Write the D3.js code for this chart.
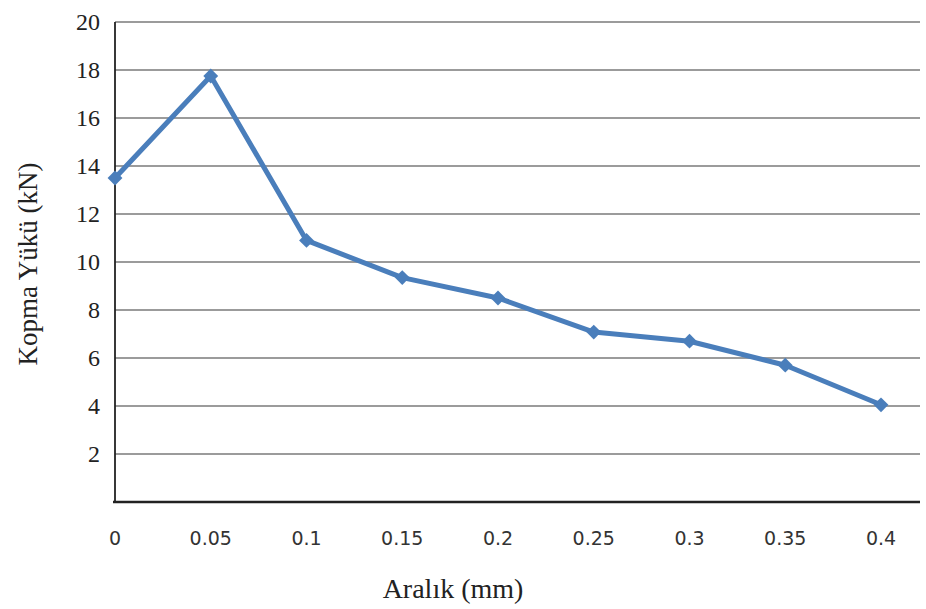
<!DOCTYPE html>
<html>
<head>
<meta charset="utf-8">
<script src="https://cdn.jsdelivr.net/npm/d3@7"></script>
<style>
  html, body { margin: 0; padding: 0; background: #fff; }
  svg { display: block; }
  .serif { font-family: "Liberation Serif", "Times New Roman", serif; }
  .sans { font-family: "DejaVu Sans", Verdana, sans-serif; }
</style>
</head>
<body>
<svg id="chart" width="926" height="609"></svg>
<script>
// Spacing (mm) vs. breaking load (kN)
const gaps = [0, 0.05, 0.1, 0.15, 0.2, 0.25, 0.3, 0.35, 0.4];
const gapLabels = ["0", "0.05", "0.1", "0.15", "0.2", "0.25", "0.3", "0.35", "0.4"];
const loads = [13.5, 17.75, 10.9, 9.35, 8.5, 7.08, 6.7, 5.7, 4.05];
const yTicks = [2, 4, 6, 8, 10, 12, 14, 16, 18, 20];

(function () {
  const svg = d3.select("#chart");
  const plotLeft = 115, plotRight = 920, plotTop = 22, plotBottom = 502;

  const x = d3.scalePoint().domain(gaps).range([plotLeft, 881]);
  const y = d3.scaleLinear().domain([0, 20]).range([plotBottom, plotTop]);

  // horizontal gridlines
  svg.append("g").selectAll("line").data(yTicks).join("line")
    .attr("x1", plotLeft).attr("x2", plotRight)
    .attr("y1", d => y(d)).attr("y2", d => y(d))
    .attr("stroke", "#7a7a7a").attr("stroke-width", 1.3);

  // y axis line
  svg.append("line").attr("x1", plotLeft).attr("x2", plotLeft)
    .attr("y1", plotTop).attr("y2", plotBottom)
    .attr("stroke", "#222").attr("stroke-width", 1.8);

  // x axis line
  svg.append("line").attr("x1", plotLeft - 2).attr("x2", plotRight)
    .attr("y1", plotBottom).attr("y2", plotBottom)
    .attr("stroke", "#222").attr("stroke-width", 2.4);

  // y tick labels
  svg.append("g").selectAll("text").data(yTicks).join("text")
    .attr("class", "serif")
    .attr("x", 100).attr("y", d => y(d))
    .attr("dy", "0.34em")
    .attr("text-anchor", "end")
    .attr("font-size", 24)
    .attr("fill", "#222")
    .text(d => d);

  // x tick labels
  svg.append("g").selectAll("text").data(gaps).join("text")
    .attr("class", "sans")
    .attr("x", d => x(d)).attr("y", 545)
    .attr("text-anchor", "middle")
    .attr("font-size", 19)
    .attr("fill", "#333")
    .text((d, i) => gapLabels[i]);

  // axis titles
  svg.append("text")
    .attr("class", "serif")
    .attr("x", 453).attr("y", 598)
    .attr("text-anchor", "middle")
    .attr("font-size", 28)
    .attr("fill", "#222")
    .text("Aralık (mm)");

  svg.append("text")
    .attr("class", "serif")
    .attr("transform", "translate(37,264) rotate(-90)")
    .attr("text-anchor", "middle")
    .attr("font-size", 27)
    .attr("fill", "#222")
    .text("Kopma Yükü (kN)");

  // data line
  const color = "#4a7ebb";
  const line = d3.line().x((d, i) => x(gaps[i])).y(d => y(d));
  svg.append("path").datum(loads)
    .attr("d", line)
    .attr("fill", "none")
    .attr("stroke", color)
    .attr("stroke-width", 5)
    .attr("stroke-linejoin", "round");

  // diamond markers
  const diamond = d3.symbol().type(d3.symbolDiamond2).size(140);
  svg.append("g").selectAll("path").data(loads).join("path")
    .attr("transform", (d, i) => `translate(${x(gaps[i])},${y(d)})`)
    .attr("d", diamond)
    .attr("fill", color);
})();
</script>
</body>
</html>
